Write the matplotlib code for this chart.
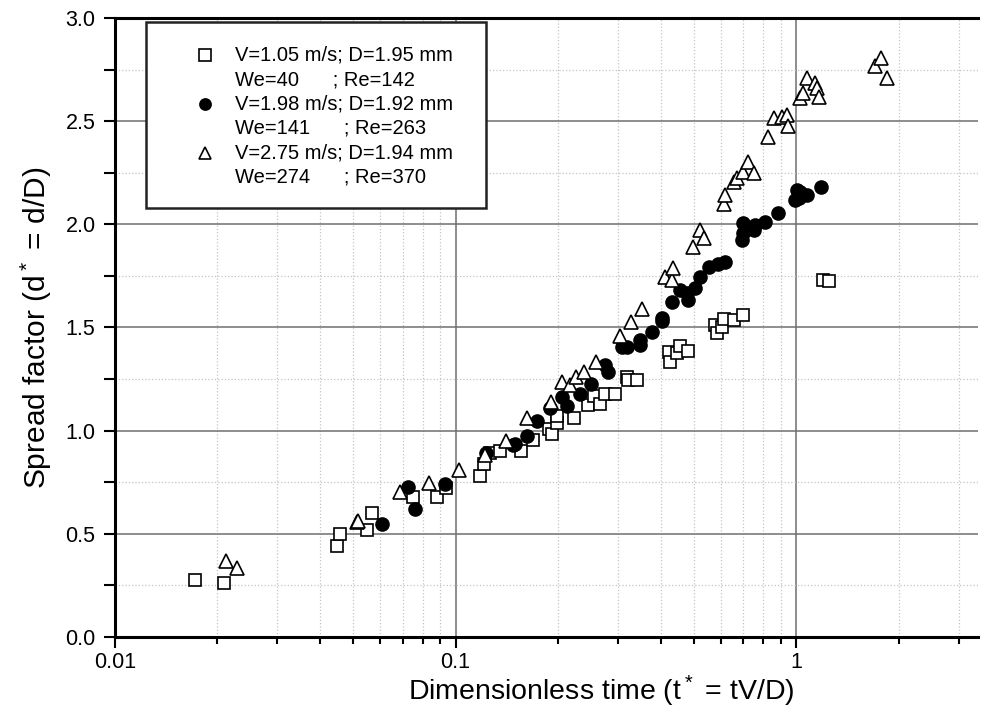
import matplotlib
matplotlib.use("Agg")
import matplotlib.pyplot as plt
from matplotlib.ticker import LogLocator, MultipleLocator, FixedFormatter, FixedLocator
from matplotlib.patches import Rectangle

plt.rcParams['font.family'] = ['Liberation Sans', 'DejaVu Sans']
plt.rcParams['mathtext.default'] = 'regular'

# V=1.05 m/s (open squares)
sq_t = [0.0172, 0.0209, 0.0449, 0.0458, 0.0551, 0.0568, 0.0752, 0.0884, 0.0938, 0.118,
        0.121, 0.126, 0.135, 0.156, 0.169, 0.1876, 0.1916, 0.198, 0.198, 0.222,
        0.2455, 0.2545, 0.2657, 0.275, 0.294, 0.318, 0.32, 0.340, 0.422, 0.4266,
        0.446, 0.456, 0.48, 0.578, 0.585, 0.605, 0.612, 0.655, 0.70, 1.20, 1.25]
sq_d = [0.276, 0.26, 0.44, 0.50, 0.52, 0.60, 0.68, 0.68, 0.72, 0.78,
        0.84, 0.89, 0.90, 0.90, 0.955, 1.01, 0.984, 1.035, 1.07, 1.06,
        1.125, 1.17, 1.13, 1.18, 1.18, 1.26, 1.245, 1.245, 1.38, 1.335,
        1.375, 1.41, 1.385, 1.51, 1.475, 1.50, 1.54, 1.535, 1.56, 1.73, 1.727]

# V=1.98 m/s (filled circles)
ci_t = [0.0607, 0.0727, 0.076, 0.093, 0.123, 0.1496, 0.147, 0.162, 0.173, 0.1895,
        0.205, 0.212, 0.232, 0.249, 0.275, 0.281, 0.3077, 0.318, 0.348, 0.348,
        0.377, 0.403, 0.403, 0.431, 0.456, 0.478, 0.48, 0.506, 0.523, 0.553,
        0.591, 0.619, 0.693, 0.70, 0.70, 0.75, 0.758, 0.811, 0.887, 0.993,
        1.005, 1.016, 1.027, 1.075, 1.18]
ci_d = [0.546, 0.726, 0.62, 0.74, 0.89, 0.935, 0.93, 0.976, 1.045, 1.11,
        1.162, 1.12, 1.18, 1.226, 1.318, 1.286, 1.407, 1.407, 1.415, 1.44,
        1.48, 1.53, 1.544, 1.625, 1.682, 1.666, 1.633, 1.69, 1.747, 1.795,
        1.81, 1.815, 1.924, 1.957, 2.005, 1.973, 1.997, 2.013, 2.057, 2.118,
        2.167, 2.126, 2.158, 2.142, 2.18]

# V=2.75 m/s (open triangles)
tr_t = [0.0212, 0.0228, 0.0513, 0.0518, 0.0687, 0.0838, 0.1025, 0.122, 0.141, 0.162,
        0.19, 0.205, 0.217, 0.225, 0.2375, 0.259, 0.304, 0.328, 0.352, 0.412,
        0.431, 0.436, 0.497, 0.523, 0.535, 0.612, 0.619, 0.655, 0.67, 0.70,
        0.724, 0.75, 0.829, 0.858, 0.908, 0.939, 0.949, 1.027, 1.05, 1.075,
        1.137, 1.15, 1.163, 1.706, 1.777, 1.846]
tr_d = [0.368, 0.333, 0.556, 0.56, 0.705, 0.744, 0.81, 0.882, 0.948, 1.06,
        1.138, 1.235, 1.22, 1.262, 1.282, 1.335, 1.458, 1.525, 1.59, 1.747,
        1.73, 1.787, 1.892, 1.973, 1.933, 2.10, 2.142, 2.207, 2.223, 2.255,
        2.30, 2.247, 2.425, 2.513, 2.522, 2.53, 2.477, 2.611, 2.636, 2.708,
        2.684, 2.66, 2.619, 2.765, 2.804, 2.708]

legend_lines = [
    ("s", "none", "V=1.05 m/s; D=1.95 mm", "We=40      ; Re=142"),
    ("o", "black", "V=1.98 m/s; D=1.92 mm", "We=141      ; Re=263"),
    ("^", "none", "V=2.75 m/s; D=1.94 mm", "We=274      ; Re=370"),
]

fig = plt.figure(figsize=(9.91, 7.09), dpi=100)
ax = fig.add_axes([0.116, 0.1016, 0.871, 0.873])

ax.plot(sq_t, sq_d, 's', ms=9, mfc='white', mec='black', mew=1.2, zorder=3)
ax.plot(ci_t, ci_d, 'o', ms=9.5, mfc='black', mec='black', mew=1.0, zorder=3)
ax.plot(tr_t, tr_d, '^', ms=10.5, mfc='white', mec='black', mew=1.2, zorder=3)

ax.set_xscale('log')
ax.set_xlim(0.01, 3.42)
ax.set_ylim(0, 3.0)

ax.xaxis.set_major_locator(FixedLocator([0.01, 0.1, 1]))
ax.xaxis.set_major_formatter(FixedFormatter(['0.01', '0.1', '1']))
ax.xaxis.set_minor_locator(LogLocator(base=10, subs=range(2, 10)))
ax.xaxis.set_minor_formatter(plt.NullFormatter())
ax.yaxis.set_major_locator(MultipleLocator(0.5))
ax.yaxis.set_minor_locator(MultipleLocator(0.25))
ax.yaxis.set_major_formatter(plt.FuncFormatter(lambda v, p: f"{v:.1f}"))

ax.grid(which='major', color='#6f6f6f', linestyle='-', linewidth=1.1, zorder=0)
ax.grid(which='minor', color='#c4c4c4', linestyle=':', linewidth=0.9, zorder=0)
ax.set_axisbelow(True)

ax.tick_params(which='major', direction='out', length=8, width=1.5, labelsize=15.5, pad=6)
ax.tick_params(axis='x', which='major', pad=3)
ax.tick_params(which='minor', direction='out', length=5, width=1.5)
ax.tick_params(axis='y', which='minor', length=8)

for side in ['left', 'bottom', 'top']:
    ax.spines[side].set_linewidth(2.2)
ax.spines['right'].set_visible(False)

ax.set_xlabel("Dimensionless time (t$^*$ = tV/D)", fontsize=20.5, labelpad=-2)
ax.xaxis.set_label_coords(0.564, -0.059)
ax.set_ylabel("Spread factor (d$^*$ = d/D)", fontsize=21.5, labelpad=8)

# legend box drawn in axes coordinates
ax.add_patch(Rectangle((0.0356, 0.693), 0.394, 0.301, transform=ax.transAxes,
                       facecolor='white', edgecolor='#222222', linewidth=1.8, zorder=5))
line_y = 0.940
step = 0.0395
for i, (mk, fc, l1, l2) in enumerate(legend_lines):
    y1 = line_y - 2 * i * step
    y2 = y1 - step
    ax.plot([0.1043], [y1], mk, transform=ax.transAxes, ms=8 if mk != '^' else 9,
            mfc='white' if fc == 'none' else fc, mec='black', mew=1.2, zorder=6,
            clip_on=False)
    ax.text(0.139, y1, l1, transform=ax.transAxes, fontsize=14.5, va='center', zorder=6)
    ax.text(0.139, y2, l2, transform=ax.transAxes, fontsize=14.5, va='center', zorder=6)

fig.savefig("out.png", dpi=100)
